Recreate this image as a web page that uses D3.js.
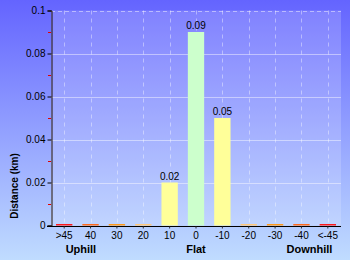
<!DOCTYPE html>
<html>
<head>
<meta charset="utf-8">
<script src="https://cdnjs.cloudflare.com/ajax/libs/d3/7.8.5/d3.min.js"></script>
<style>
  body { margin: 0; padding: 0; }
  svg text { font-family: "Liberation Sans", Arial, sans-serif; }
</style>
</head>
<body>
<div id="chart"></div>
<script>
// gradient categories (percent), left = uphill, right = downhill
var categories = [">45", "40", "30", "20", "10", "0", "-10", "-20", "-30", "-40", "<-45"];
var distances = [0.0007, 0.0007, 0.0007, 0.0007, 0.02, 0.09, 0.05, 0.0007, 0.0007, 0.0007, 0.0007];
var valueLabels = ["", "", "", "", "0.02", "0.09", "0.05", "", "", "", ""];
var barColors = ["#ff1a1a", "#ff6a1a", "#ff9a1a", "#ffc87a", "#ffff99", "#ccffcc", "#ffff99",
                 "#ffc87a", "#ff9a1a", "#ff6a1a", "#ff1a1a"];
var yTicks = [0, 0.02, 0.04, 0.06, 0.08, 0.1];
var yMinorTicks = [0.01, 0.03, 0.05, 0.07, 0.09];
var groupLabels = [{text: "Uphill", at: "30", shift: -36}, {text: "Flat", at: "0", shift: 0}, {text: "Downhill", at: "-40", shift: 8}];

var W = 350, H = 260;
var margin = {left: 51, right: 9, top: 10.5, bottom: 34.5};

var svg = d3.select("#chart").append("svg")
    .attr("width", W)
    .attr("height", H);

// background gradient
var defs = svg.append("defs");
var grad = defs.append("linearGradient")
    .attr("id", "bg")
    .attr("x1", 0).attr("y1", 0).attr("x2", 0).attr("y2", 1);
grad.append("stop").attr("offset", "0%").attr("stop-color", "#6464ff");
grad.append("stop").attr("offset", "100%").attr("stop-color", "#c0dcff");

svg.append("rect")
    .attr("width", W).attr("height", H)
    .attr("fill", "url(#bg)");

var xScale = d3.scaleBand()
    .domain(categories)
    .range([margin.left, W - margin.right])
    .paddingInner(0.38)
    .paddingOuter(0.19);

var yScale = d3.scaleLinear()
    .domain([0, 0.1])
    .range([H - margin.bottom, margin.top]);

// plot area (lighter)
svg.append("rect")
    .attr("x", margin.left)
    .attr("y", margin.top)
    .attr("width", W - margin.left - margin.right)
    .attr("height", H - margin.top - margin.bottom)
    .attr("fill", "#ffffff")
    .attr("fill-opacity", 0.17);

// horizontal grid
svg.append("g")
    .selectAll("line")
    .data(yTicks.slice(1))
    .enter().append("line")
    .attr("x1", margin.left)
    .attr("x2", W - margin.right)
    .attr("y1", function (d) { return Math.round(yScale(d)) + 0.5; })
    .attr("y2", function (d) { return Math.round(yScale(d)) + 0.5; })
    .attr("stroke", "#ffffff")
    .attr("stroke-opacity", 0.45)
    .attr("stroke-dasharray", function (d) { return d === 0.1 ? "4,3" : null; });

// vertical dashed grid at band centres
svg.append("g")
    .selectAll("line")
    .data(categories)
    .enter().append("line")
    .attr("x1", function (d) { return Math.round(xScale(d) + xScale.bandwidth() / 2) + 0.5; })
    .attr("x2", function (d) { return Math.round(xScale(d) + xScale.bandwidth() / 2) + 0.5; })
    .attr("y1", margin.top)
    .attr("y2", H - margin.bottom)
    .attr("stroke", "#ffffff")
    .attr("stroke-opacity", 0.4)
    .attr("stroke-dasharray", "4,4");

// bars
svg.append("g")
    .selectAll("rect")
    .data(distances)
    .enter().append("rect")
    .attr("x", function (d, i) { return xScale(categories[i]); })
    .attr("width", xScale.bandwidth())
    .attr("y", function (d) { return yScale(d); })
    .attr("height", function (d) { return yScale(0) - yScale(d); })
    .attr("fill", function (d, i) { return barColors[i]; });

// value labels
svg.append("g")
    .selectAll("text")
    .data(distances)
    .enter().append("text")
    .attr("x", function (d, i) { return xScale(categories[i]) + xScale.bandwidth() / 2; })
    .attr("y", function (d) { return yScale(d) - 3; })
    .attr("text-anchor", "middle")
    .style("font-size", "10px")
    .attr("fill", "#000")
    .text(function (d, i) { return valueLabels[i]; });

// y axis
var yAxis = d3.axisLeft(yScale)
    .tickValues(yTicks)
    .tickFormat(function (d) { return d === 0 ? "0" : d3.format("")(+d.toFixed(2)); })
    .tickSize(4)
    .tickPadding(2);

var yG = svg.append("g")
    .attr("transform", "translate(" + (margin.left + 0.5) + ",0)")
    .call(yAxis);
yG.select(".domain").attr("stroke", "#221100");
yG.selectAll(".tick line").attr("stroke", "#000");
yG.selectAll(".tick text").style("font-size", "10px").attr("fill", "#000");

// minor red ticks
svg.append("g")
    .selectAll("line")
    .data(yMinorTicks)
    .enter().append("line")
    .attr("x1", margin.left - 3)
    .attr("x2", margin.left)
    .attr("y1", function (d) { return Math.round(yScale(d)) + 0.5; })
    .attr("y2", function (d) { return Math.round(yScale(d)) + 0.5; })
    .attr("stroke", "#e00000");

// x axis
var xAxis = d3.axisBottom(xScale)
    .tickSize(2)
    .tickPadding(3);

var xG = svg.append("g")
    .attr("transform", "translate(0," + (Math.round(yScale(0)) + 0.5) + ")")
    .call(xAxis);
xG.select(".domain").attr("stroke", "#000").attr("d", "M" + (margin.left - 4) + ",0H" + (W - margin.right));
xG.selectAll(".tick line").attr("stroke", "#333");
xG.selectAll(".tick text").style("font-size", "10px").attr("fill", "#000");

// group labels under the axis
svg.append("g")
    .selectAll("text")
    .data(groupLabels)
    .enter().append("text")
    .attr("x", function (d) { return xScale(d.at) + xScale.bandwidth() / 2 + d.shift; })
    .attr("y", 253)
    .attr("text-anchor", "middle")
    .style("font-size", "11px")
    .style("font-weight", "bold")
    .attr("fill", "#000")
    .text(function (d) { return d.text; });

// y axis title
svg.append("text")
    .attr("transform", "translate(18,186) rotate(-90)")
    .attr("text-anchor", "middle")
    .style("font-size", "10px")
    .style("font-weight", "bold")
    .attr("fill", "#000")
    .text("Distance (km)");
</script>
</body>
</html>
